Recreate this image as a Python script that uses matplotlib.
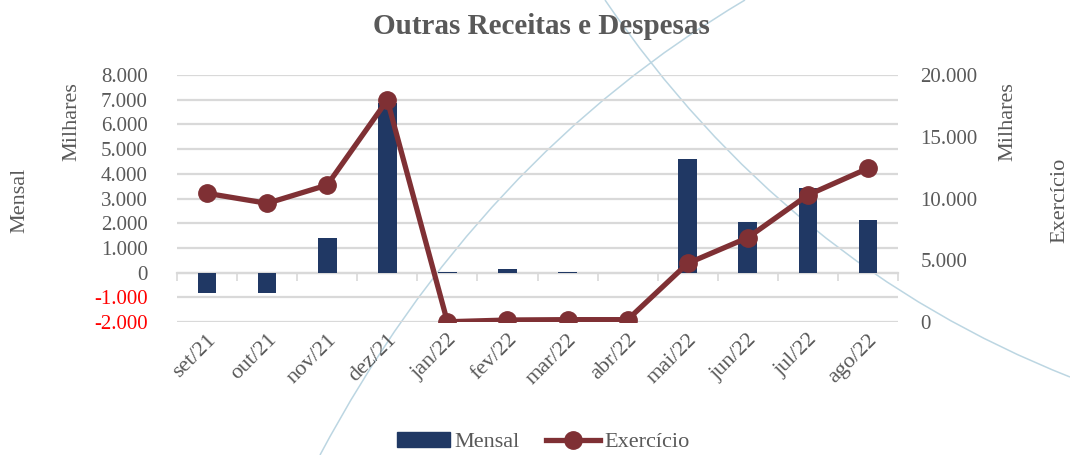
import matplotlib
matplotlib.use("Agg")
import matplotlib.pyplot as plt
from matplotlib.path import Path
from matplotlib.patches import PathPatch, Patch
from matplotlib.lines import Line2D
import numpy as np

# data (Milhares)
meses = ["set/21", "out/21", "nov/21", "dez/21", "jan/22", "fev/22",
         "mar/22", "abr/22", "mai/22", "jun/22", "jul/22", "ago/22"]
mensal = [-820, -820, 1410, 6850, 20, 130, 30, 0, 4600, 2050, 3430, 2140]
exercicio = [10420, 9610, 11090, 17970, 20, 160, 190, 190, 4750, 6830, 10280, 12440]

left_ticks = list(range(-2000, 8001, 1000))
right_ticks = list(range(0, 20001, 5000))

GRAY = "#595959"
BAR = "#203864"
LINE = "#7f3034"
W, H = 1070, 455

plt.rcParams["font.family"] = ["Liberation Serif", "DejaVu Serif"]


def fmt(v):
    return f"{v:,.0f}".replace(",", ".")


fig = plt.figure(figsize=(W / 100, H / 100), dpi=100)


def px(x, y):
    return (x / W, 1 - y / H)


# decorative background arcs
arcs = [
    [px(320, 455), px(478, 158), px(745, 0)],
    [px(605, 0), px(786, 265), px(1070, 377)],
]
for pts in arcs:
    path = Path(pts, [Path.MOVETO, Path.CURVE3, Path.CURVE3])
    fig.add_artist(PathPatch(path, fill=False, edgecolor="#bcd6e2", lw=1.1,
                             transform=fig.transFigure, zorder=-1))

ax = fig.add_axes([177 / W, 1 - 322 / H, (898 - 177) / W, (322 - 75) / H])
ax.set_facecolor("none")
x = np.arange(len(meses))

ax.bar(x, mensal, width=0.31, color=BAR, zorder=3)
ax.set_xlim(-0.5, len(meses) - 0.5)
ax.set_ylim(-2000, 8000)
ax.set_yticks(left_ticks)
ax.set_yticklabels([fmt(v) for v in left_ticks])
for lbl, v in zip(ax.get_yticklabels(), left_ticks):
    lbl.set_color("red" if v < 0 else GRAY)
ax.yaxis.grid(True, color="#d9d9d9", lw=1.6)
ax.set_axisbelow(True)
for s in ax.spines.values():
    s.set_visible(False)
ax.tick_params(axis="y", length=0, labelsize=15, pad=21)
ax.set_xticks(x)
ax.set_xticklabels(meses, rotation=45, ha="right", rotation_mode="anchor")
ax.tick_params(axis="x", length=0, labelsize=16, labelcolor=GRAY, pad=6)

# zero line with category boundary ticks
zero = ax.secondary_xaxis(0, transform=ax.transData)
zero.set_xticks(np.arange(-0.5, len(meses), 1))
zero.tick_params(length=6, width=1.2, color="#d9d9d9", labelbottom=False)
zero.spines["bottom"].set_color("#d9d9d9")
zero.spines["bottom"].set_linewidth(1.6)

ax2 = ax.twinx()
ax2.plot(x, exercicio, color=LINE, lw=3.8, marker="o", ms=12.5, zorder=4)
ax2.set_ylim(0, 20000)
ax2.set_yticks(right_ticks)
ax2.set_yticklabels([fmt(v) for v in right_ticks])
for s in ax2.spines.values():
    s.set_visible(False)
ax2.tick_params(axis="y", length=0, labelsize=15, labelcolor=GRAY, pad=16)

fig.text(541 / W, 1 - 27 / H, "Outras Receitas e Despesas", ha="center",
         va="center", fontsize=21, fontweight="bold", color=GRAY)
fig.text(20 / W, 1 - 200 / H, "Mensal", rotation=90, ha="center", va="center",
         fontsize=16, color=GRAY)
fig.text(72 / W, 1 - 122 / H, "Milhares", rotation=90, ha="center", va="center",
         fontsize=16, color=GRAY)
fig.text(1008 / W, 1 - 122 / H, "Milhares", rotation=90, ha="center",
         va="center", fontsize=16, color=GRAY)
fig.text(1060 / W, 1 - 200 / H, "Exercício", rotation=90, ha="center",
         va="center", fontsize=16, color=GRAY)

handles = [Patch(color=BAR),
           Line2D([], [], color=LINE, lw=3.8, marker="o", ms=12.5)]
fig.legend(handles, ["Mensal", "Exercício"], loc="center",
           bbox_to_anchor=(543 / W, 1 - 442 / H), ncol=2, frameon=False,
           fontsize=16, labelcolor=GRAY, handlelength=2.4, handletextpad=0.2,
           columnspacing=1.2)

fig.savefig("out.png", dpi=100)
